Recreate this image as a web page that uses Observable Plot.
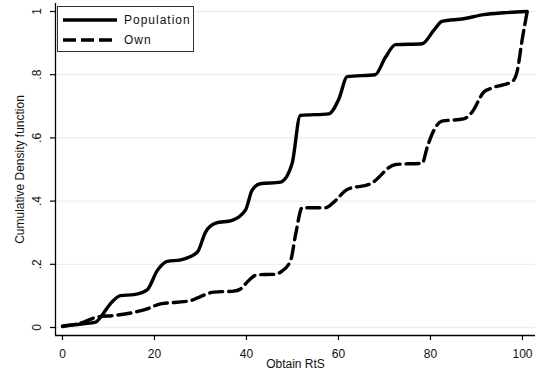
<!DOCTYPE html>
<html>
<head>
<meta charset="utf-8">
<script src="https://cdn.jsdelivr.net/npm/d3@7"></script>
<script src="https://cdn.jsdelivr.net/npm/@observablehq/plot@0.6"></script>
<style>
  html, body { margin: 0; padding: 0; background: #fff; }
  #wrap { position: relative; width: 539px; height: 376px; font-family: "Liberation Sans", Arial, sans-serif; }
  #legend { position: absolute; left: 57px; top: 6px; width: 135px; height: 44px; border: 1.5px solid #333; background: #fff; }
  #legend .row { position: absolute; left: 0; height: 16px; display: flex; align-items: center; }
  #legend .lab { font-size: 12px; letter-spacing: 1px; color: #111; margin-left: 6px; }
</style>
</head>
<body>
<div id="wrap"></div>
<script>
// ---- data ----
const popX = [0, 4.6, 7.2, 8.3, 10.4, 12.6, 15.5, 18.4, 20.6, 22.8, 25.7, 29.3, 31.1, 33.3, 36.9, 39.8, 41.2, 43, 47.4, 49.9, 51.7, 57.9, 60.1, 61.9, 68, 70.2, 72.4, 78.2, 80.7, 82.5, 87.2, 91.6, 95.9, 101];
const popY = [0.005, 0.012, 0.017, 0.033, 0.075, 0.101, 0.104, 0.119, 0.18, 0.209, 0.214, 0.238, 0.302, 0.33, 0.339, 0.372, 0.434, 0.455, 0.46, 0.518, 0.671, 0.676, 0.724, 0.794, 0.80, 0.855, 0.895, 0.898, 0.94, 0.969, 0.977, 0.99, 0.996, 1.0];
const ownX = [0, 4.6, 7.5, 11.2, 15.5, 18.4, 21.3, 24.9, 27.8, 30, 32.9, 37.2, 38.7, 40.5, 42.3, 45.9, 47.4, 49.6, 50.7, 52.1, 57.2, 59, 61.9, 67, 72.4, 78.2, 79.3, 80.7, 82.5, 87.2, 89, 91.6, 93.4, 97.8, 98.8, 99.9, 101];
const ownY = [0.003, 0.017, 0.033, 0.038, 0.048, 0.059, 0.075, 0.08, 0.085, 0.098, 0.112, 0.115, 0.122, 0.149, 0.167, 0.168, 0.175, 0.212, 0.296, 0.379, 0.379, 0.397, 0.437, 0.455, 0.516, 0.52, 0.571, 0.623, 0.653, 0.66, 0.681, 0.745, 0.758, 0.779, 0.808, 0.908, 0.998];
const seriesNames = ["Population", "Own"];
const xTicks = [0, 20, 40, 60, 80, 100];
const yTicks = [0, 0.2, 0.4, 0.6, 0.8, 1];
const yTickLabels = ["0", ".2", ".4", ".6", ".8", "1"];
const xTitle = "Obtain RtS";
const yTitle = "Cumulative Density function";

const xDomain = [-1.52, 102.83];
const yDomain = [-0.0253, 1.0253];

const pop = popX.map((x, i) => ({x, y: popY[i]}));
const own = ownX.map((x, i) => ({x, y: ownY[i]}));
const yLab = yTicks.map((v, i) => ({v, t: yTickLabels[i]}));

const fontFamily = '"Liberation Sans", Arial, sans-serif';

const chart = Plot.plot({
  width: 539,
  height: 376,
  marginLeft: 55,
  marginRight: 4,
  marginTop: 3,
  marginBottom: 41,
  style: {fontFamily, fontSize: "12px", color: "#111", background: "#fff"},
  x: {domain: xDomain},
  y: {domain: yDomain},
  marks: [
    Plot.ruleY(yTicks, {stroke: "#e6eff1", strokeWidth: 1.3}),
    Plot.line(own, {x: "x", y: "y", curve: "monotone-x", stroke: "#000", strokeWidth: 3.4, strokeDasharray: "13,6", strokeLinejoin: "round"}),
    Plot.line(pop, {x: "x", y: "y", curve: "monotone-x", stroke: "#000", strokeWidth: 3.4, strokeLinejoin: "round"}),
    Plot.ruleY([yDomain[0]], {stroke: "#000", strokeWidth: 1.3}),
    Plot.ruleX([xDomain[0]], {stroke: "#000", strokeWidth: 1.3}),
    Plot.axisX(xTicks, {tickSize: 5, tickPadding: 9, stroke: "#000", strokeWidth: 1.2, fontSize: 12, label: null, tickFormat: d => String(d)}),
    Plot.axisY(yTicks, {tickSize: 5, tickPadding: 0, stroke: "#000", strokeWidth: 1.2, label: null, tickFormat: () => ""}),
    Plot.text(yLab, {y: "v", text: "t", frameAnchor: "left", rotate: -90, dx: -18, textAnchor: "middle", lineAnchor: "middle", fontSize: 12, fill: "#111"}),
    Plot.text([xTitle], {frameAnchor: "bottom", dy: 29, textAnchor: "middle", lineAnchor: "middle", fontSize: 12, fill: "#111", ariaLabel: "x-title"}),
    Plot.text([yTitle], {frameAnchor: "left", rotate: -90, dx: -35, textAnchor: "middle", lineAnchor: "middle", fontSize: 12, fill: "#111", ariaLabel: "y-title"})
  ]
});

d3.select(chart).selectAll("g[aria-label='x-title'] text, g[aria-label='y-title'] text").style("letter-spacing", "0.95px");

const wrap = document.getElementById("wrap");
wrap.appendChild(chart);

// legend overlay inside the plot area
const legend = document.createElement("div");
legend.id = "legend";
const dashes = ["none", "13,5"];
seriesNames.forEach((name, i) => {
  const row = document.createElement("div");
  row.className = "row";
  row.style.top = (5 + i * 20) + "px";
  row.innerHTML = `<svg width="60" height="16"><line x1="5" x2="59" y1="8" y2="8" stroke="#000" stroke-width="3.4" stroke-dasharray="${dashes[i]}"/></svg><span class="lab">${name}</span>`;
  legend.appendChild(row);
});
wrap.appendChild(legend);
</script>
</body>
</html>
